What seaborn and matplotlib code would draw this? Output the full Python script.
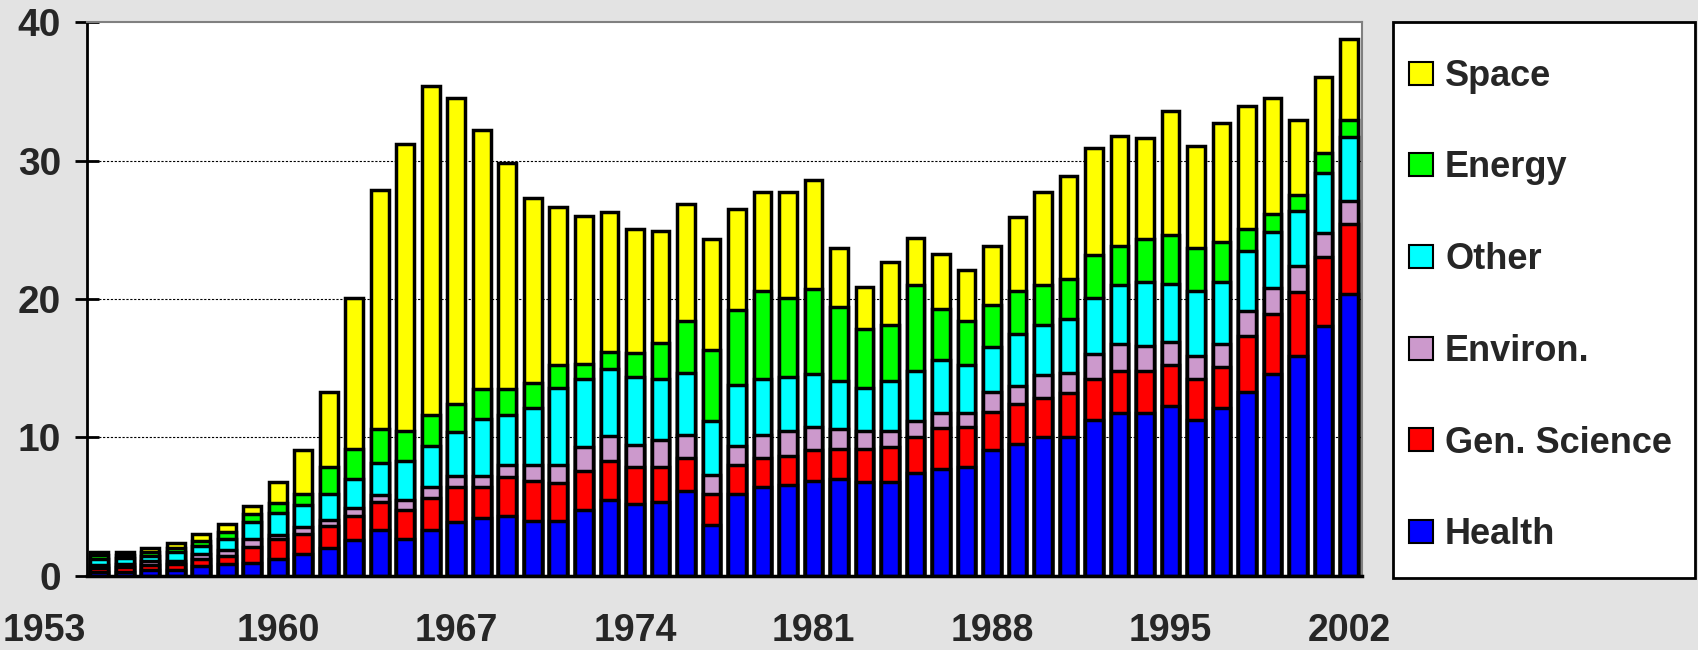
import matplotlib
matplotlib.use("Agg")
import seaborn as sns
import pandas as pd
import matplotlib.pyplot as plt
from matplotlib.patches import Patch, Rectangle
from matplotlib.transforms import ScaledTranslation

# データ
years = list(range(1953, 2003))
health = [0.25, 0.3, 0.4, 0.45, 0.7, 0.85, 0.95, 1.25, 1.55, 2.0,
          2.6, 3.3, 2.7, 3.3, 3.9, 4.15, 4.3, 4.0, 4.0, 4.75,
          5.5, 5.2, 5.35, 6.1, 3.7, 5.95, 6.4, 6.55, 6.85, 7.0,
          6.75, 6.75, 7.45, 7.75, 7.9, 9.1, 9.55, 10.05, 10.05, 11.25,
          11.8, 11.8, 12.25, 11.25, 12.1, 13.3, 14.55, 15.9, 18.05, 20.35]
gen_science = [0.35, 0.35, 0.4, 0.4, 0.5, 0.6, 1.15, 1.4, 1.5, 1.6,
               1.75, 2.05, 2.05, 2.35, 2.55, 2.25, 2.85, 2.85, 2.7, 2.85,
               2.8, 2.7, 2.5, 2.4, 2.25, 2.05, 2.1, 2.1, 2.25, 2.2,
               2.4, 2.55, 2.55, 2.9, 2.85, 2.75, 2.9, 2.8, 3.15, 2.95,
               3.0, 3.0, 3.0, 2.95, 3.0, 4.05, 4.4, 4.6, 4.95, 5.05]
environ = [0.2, 0.2, 0.25, 0.25, 0.35, 0.4, 0.55, 0.3, 0.5, 0.45,
           0.55, 0.5, 0.75, 0.75, 0.75, 0.8, 0.85, 1.15, 1.3, 1.7,
           1.8, 1.55, 1.95, 1.7, 1.35, 1.4, 1.7, 1.8, 1.65, 1.4,
           1.3, 1.15, 1.2, 1.15, 1.05, 1.45, 1.3, 1.65, 1.45, 1.85,
           1.95, 1.8, 1.65, 1.7, 1.65, 1.8, 1.85, 1.85, 1.75, 1.65]
other = [0.45, 0.45, 0.4, 0.6, 0.6, 0.8, 1.25, 1.6, 1.55, 1.9,
         2.1, 2.3, 2.8, 3.0, 3.2, 4.15, 3.65, 4.15, 5.6, 4.9,
         4.85, 4.9, 4.4, 4.45, 3.9, 4.4, 4.05, 3.9, 3.85, 3.5,
         3.15, 3.65, 3.6, 3.8, 3.4, 3.2, 3.75, 3.6, 3.9, 4.05,
         4.25, 4.65, 4.2, 4.65, 4.5, 4.35, 4.05, 4.0, 4.35, 4.65]
energy = [0.25, 0.2, 0.25, 0.3, 0.4, 0.5, 0.55, 0.7, 0.85, 1.9,
          2.15, 2.45, 2.15, 2.25, 2.05, 2.15, 1.85, 1.75, 1.65, 1.1,
          1.25, 1.75, 2.6, 3.75, 5.1, 5.4, 6.3, 5.75, 6.15, 5.35,
          4.2, 4.0, 6.2, 3.7, 3.2, 3.1, 3.05, 2.9, 2.9, 3.1,
          2.85, 3.05, 3.5, 3.1, 2.85, 1.55, 1.3, 1.15, 1.45, 1.2]
space = [0.25, 0.25, 0.3, 0.35, 0.45, 0.6, 0.6, 1.5, 3.15, 5.45,
         10.9, 17.3, 20.75, 23.75, 22.05, 18.7, 16.3, 13.4, 11.4, 10.7,
         10.1, 8.95, 8.1, 8.45, 8.0, 7.3, 7.2, 7.65, 7.85, 4.25,
         3.1, 4.55, 3.4, 3.95, 3.7, 4.25, 5.35, 6.75, 7.45, 7.7,
         7.95, 7.35, 8.95, 7.4, 8.6, 8.9, 8.35, 5.45, 5.45, 5.85]

series = ['Health', 'Gen. Science', 'Environ.', 'Other', 'Energy', 'Space']
colors = ['#0000ff', '#ff0000', '#cc99cc', '#00ffff', '#00ff00', '#ffff00']
tick_years = [1953, 1960, 1967, 1974, 1981, 1988, 1995, 2002]

df = pd.DataFrame({'year': [str(y) for y in years],
                   'Health': health, 'Gen. Science': gen_science,
                   'Environ.': environ, 'Other': other,
                   'Energy': energy, 'Space': space})
cum = df[series].cumsum(axis=1)
cum['year'] = df['year']

sns.set_style("white")
plt.rcParams['font.family'] = ['Liberation Sans', 'DejaVu Sans']
plt.rcParams['font.weight'] = 'bold'

bg = '#e3e3e3'
fig = plt.figure(figsize=(16.98, 6.5), dpi=100, facecolor=bg)
ax = fig.add_axes([0.051, 0.114, 0.751, 0.852])
ax.set_facecolor('white')

# 積み上げ: 累積値を上から順に重ねる
for name, col in reversed(list(zip(series, colors))):
    sns.barplot(data=cum, x='year', y=name, color=col, saturation=1,
                edgecolor='black', linewidth=2.5, width=0.7,
                errorbar=None, ax=ax, zorder=3)

ax.set_xlim(-0.5, len(years) - 0.5)
ax.set_ylim(0, 40)
ax.set_yticks([0, 10, 20, 30, 40])
ax.set_xlabel('')
ax.set_ylabel('')

# x軸: ラベルはバー中央、目盛り線はバーの境界
ax.set_xticks([years.index(y) for y in tick_years])
ax.set_xticklabels([str(y) for y in tick_years])
ax.set_xticks([i - 0.5 for i in range(len(years) + 1)], minor=True)
ax.tick_params(axis='x', which='major', length=0, pad=27, labelsize=27)
ax.tick_params(axis='x', which='minor', direction='inout', length=17,
               width=2, color='black')
ax.tick_params(axis='y', direction='inout', length=17, width=2,
               color='black', pad=10, labelsize=28, left=True)
for lab in ax.get_xticklabels() + ax.get_yticklabels():
    lab.set_fontweight('bold')
first = ax.get_xticklabels()[0]
first.set_transform(first.get_transform() + ScaledTranslation(-0.55, 0, fig.dpi_scale_trans))

for v in [10, 20, 30]:
    ax.axhline(v, color='black', lw=0.8, ls=(0, (2, 1.5)), zorder=1)

for side in ['top', 'right']:
    ax.spines[side].set_color('#808080')
    ax.spines[side].set_linewidth(1.5)
ax.spines['left'].set_color('black')
ax.spines['left'].set_linewidth(2)
ax.spines['bottom'].set_color('black')
ax.spines['bottom'].set_linewidth(2.5)
ax.spines['bottom'].set_zorder(5)

# 凡例
fig.add_artist(Rectangle((0.8205, 0.111), 0.178, 0.855, transform=fig.transFigure,
                         facecolor='white', edgecolor='black', lw=2))
handles = [Patch(facecolor=c, edgecolor='black', linewidth=1.5, label=n)
           for n, c in reversed(list(zip(series, colors)))]
fig.legend(handles=handles, loc='center left', bbox_to_anchor=(0.8298, 0.53),
           frameon=False, borderpad=0, borderaxespad=0, labelspacing=1.57,
           handlelength=0.66, handleheight=0.6, handletextpad=0.34,
           prop={'size': 26, 'weight': 'bold'})

fig.savefig('out.png', dpi=100, facecolor=bg)
